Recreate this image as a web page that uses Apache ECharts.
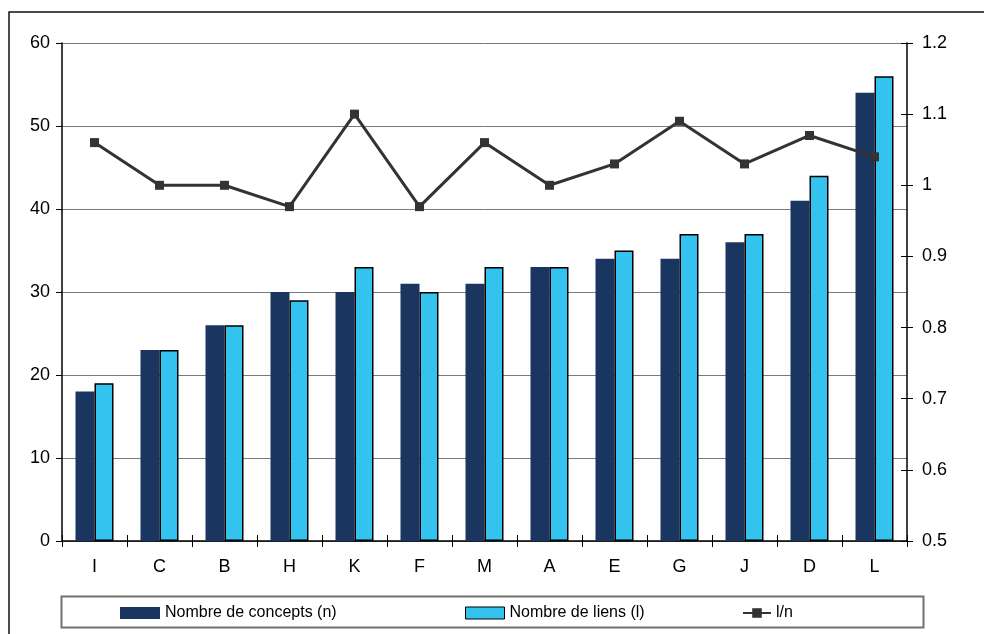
<!DOCTYPE html>
<html>
<head>
<meta charset="utf-8">
<script src="https://cdn.jsdelivr.net/npm/echarts@6/dist/echarts.min.js"></script>
<style>
  html, body { margin: 0; padding: 0; background: #fff; }
  #chart { width: 984px; height: 634px; }
</style>
</head>
<body>
<div id="chart"></div>
<script>
// Students sorted by concept count
const categories = ['I', 'C', 'B', 'H', 'K', 'F', 'M', 'A', 'E', 'G', 'J', 'D', 'L'];
// Number of concepts (n)
const concepts = [18, 23, 26, 30, 30, 31, 31, 33, 34, 34, 36, 41, 54];
// Number of links (l)
const links = [19, 23, 26, 29, 33, 30, 33, 33, 35, 37, 37, 44, 56];
// Ratio l/n
const ratio = [1.06, 1.00, 1.00, 0.97, 1.10, 0.97, 1.06, 1.00, 1.03, 1.09, 1.03, 1.07, 1.04];

const nameConcepts = 'Nombre de concepts (n)';
const nameLinks = 'Nombre de liens (l)';
const nameRatio = 'l/n';

const FONT = "'Liberation Sans', Arial, sans-serif";
const DARK = '#1b3561';
const LIGHT = '#33c3ee';

const chart = echarts.init(document.getElementById('chart'), null, { renderer: 'canvas' });

const labelStyle = { color: '#000', fontFamily: FONT, fontSize: 18 };
const legendText = { color: '#000', fontFamily: FONT, fontSize: 16 };

chart.setOption({
  animation: false,
  backgroundColor: '#fff',
  grid: { left: 62, right: 77, top: 43, bottom: 93, containLabel: false },
  graphic: [
    {
      type: 'rect', z: -10, silent: true,
      shape: { x: 9, y: 12, width: 1100, height: 800 },
      style: { fill: 'none', stroke: '#111', lineWidth: 1.5 }
    },
    {
      type: 'rect', z: -10, silent: true,
      shape: { x: 61.5, y: 596.5, width: 862, height: 31 },
      style: { fill: '#fff', stroke: '#707070', lineWidth: 2 }
    }
  ],
  legend: [
    {
      data: [{ name: nameConcepts, icon: 'rect' }], left: 120, top: 605, padding: 0,
      itemWidth: 40, itemHeight: 12, itemGap: 0, textStyle: legendText
    },
    {
      data: [{ name: nameLinks, icon: 'rect' }], left: 465, top: 605, padding: 0,
      itemWidth: 39, itemHeight: 12, itemGap: 0, textStyle: legendText,
      itemStyle: { borderColor: '#000', borderWidth: 1 }
    },
    {
      data: [nameRatio], left: 742, top: 605, padding: 0,
      itemWidth: 28, itemHeight: 12, itemGap: 0, textStyle: legendText
    }
  ],
  xAxis: [
    {
      type: 'category', data: categories, boundaryGap: true,
      axisLine: { show: true, lineStyle: { color: '#000', width: 1.5 } },
      axisTick: { show: true, inside: false, length: 6, lineStyle: { color: '#000' } },
      axisLabel: Object.assign({ margin: 17 }, labelStyle),
      splitLine: { show: false }
    },
    {
      // inner half of the crossing category ticks
      type: 'category', data: categories, position: 'bottom', boundaryGap: true,
      axisLine: { show: false },
      axisTick: { show: true, inside: true, length: 6, lineStyle: { color: '#000' } },
      axisLabel: { show: false },
      splitLine: { show: false }
    }
  ],
  yAxis: [
    {
      type: 'value', min: 0, max: 60, interval: 10, position: 'left',
      axisLine: { show: true, lineStyle: { color: '#000', width: 1.5 } },
      axisTick: { show: true, inside: false, length: 6, lineStyle: { color: '#000' } },
      axisLabel: Object.assign({ margin: 12 }, labelStyle),
      splitLine: { show: true, lineStyle: { color: '#7a7a7a', width: 1 } }
    },
    {
      type: 'value', min: 0.5, max: 1.2, interval: 0.1, position: 'right',
      axisLine: { show: true, lineStyle: { color: '#000', width: 1.5 } },
      axisTick: { show: true, inside: false, length: 6, lineStyle: { color: '#000' } },
      axisLabel: Object.assign({ margin: 15 }, labelStyle),
      splitLine: { show: false }
    },
    {
      // inner half of the crossing right-hand ticks
      type: 'value', min: 0.5, max: 1.2, interval: 0.1, position: 'right',
      axisLine: { show: false },
      axisTick: { show: true, inside: true, length: 6, lineStyle: { color: '#000' } },
      axisLabel: { show: false },
      splitLine: { show: false }
    }
  ],
  series: [
    {
      name: nameConcepts, type: 'bar', data: concepts,
      xAxisIndex: 0, yAxisIndex: 0,
      barWidth: 19, barGap: '0%',
      itemStyle: { color: DARK, borderColor: DARK, borderWidth: 0 },
      z: 2
    },
    {
      name: nameLinks, type: 'bar', data: links,
      xAxisIndex: 0, yAxisIndex: 0,
      barWidth: 19, barGap: '0%',
      itemStyle: { color: LIGHT, borderColor: '#000', borderWidth: 1.5 },
      z: 2
    },
    {
      name: nameRatio, type: 'line', data: ratio,
      xAxisIndex: 0, yAxisIndex: 1,
      symbol: 'rect', symbolSize: 9, showSymbol: true,
      lineStyle: { color: '#333', width: 3 },
      itemStyle: { color: '#333' },
      z: 5
    }
  ]
});
</script>
</body>
</html>
